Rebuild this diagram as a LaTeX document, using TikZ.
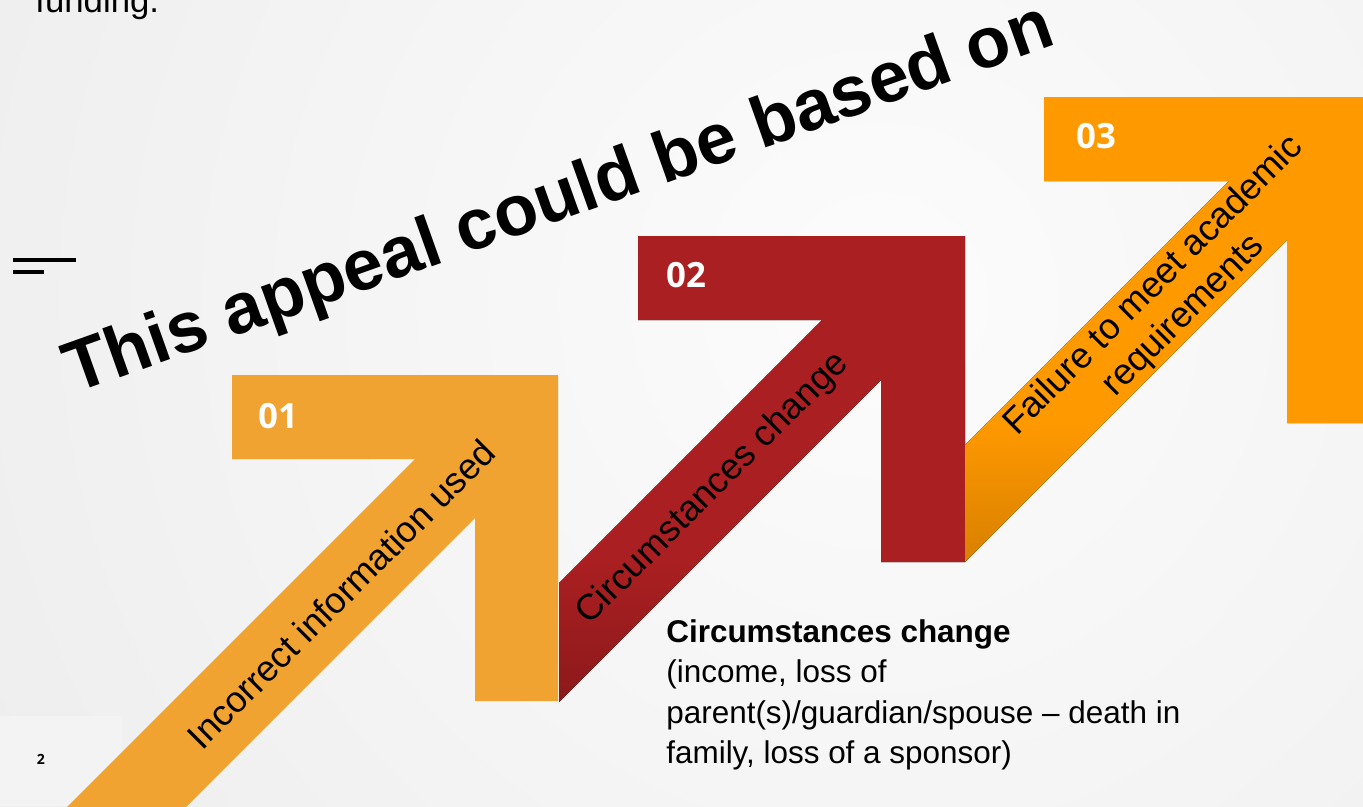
\documentclass[tikz,border=0pt]{standalone}
\usepackage{fontspec}
\setmainfont{Liberation Sans}
\newfontfamily\numfont{Open Sans}

\definecolor{bggray}{RGB}{231,231,231}
\definecolor{bglight}{RGB}{252,252,252}
\definecolor{pagebox}{RGB}{243,243,243}
\definecolor{stepone}{RGB}{240,163,48}
\definecolor{steptwo}{RGB}{170,31,33}
\definecolor{steptwodark}{RGB}{140,25,27}
\definecolor{stepthree}{RGB}{255,153,0}
\definecolor{stepthreedark}{RGB}{216,128,0}

% the middle 50bp of a shading spans the path
\pgfdeclareverticalshading{twofade}{100bp}{color(0bp)=(steptwodark); color(25bp)=(steptwodark); color(40bp)=(steptwo); color(100bp)=(steptwo)}
\pgfdeclareverticalshading{threefade}{100bp}{color(0bp)=(stepthreedark); color(25bp)=(stepthreedark); color(40bp)=(stepthree); color(100bp)=(stepthree)}

\begin{document}
\begin{tikzpicture}[x=0.02cm,y=-0.02cm,
  numlabel/.style={font=\numfont\bfseries\fontsize{19.8}{24}\selectfont, text=white, inner sep=0},
  bandtext/.style={font=\fontsize{20.6}{24}\selectfont, rotate=45, inner sep=0, align=center},
  titletext/.style={font=\bfseries\fontsize{40.8}{48}\selectfont, rotate=19.6, inner sep=0, anchor=base west},
  plaintext/.style={font=\fontsize{17.9}{23.1}\selectfont, inner sep=0, align=left}]

\useasboundingbox (0,0) rectangle (1363,806);
\clip (0,0) rectangle (1363,806);

% background
\fill[bggray] (0,0) rectangle (1363,806);
\fill[inner color=bglight, outer color=bggray] (880,300) circle [radius=30cm];
\fill[pagebox] (0,716) rectangle (122,806);

% the three steps
\fill[stepone] (50,824) -- (415,459) -- (232,459) -- (232,375) -- (558,375)
  -- (558,701) -- (475,701) -- (475,518) -- (169,824) -- cycle;
\fill[shading=twofade] (559,583) -- (822,320) -- (638,320) -- (638,236) -- (965,236)
  -- (965,562) -- (881,562) -- (881,380) -- (559,702) -- cycle;
\fill[shading=threefade] (965,445) -- (1229,181) -- (1044,181) -- (1044,97) -- (1375,97)
  -- (1375,423) -- (1287,423) -- (1287,240) -- (965,562) -- cycle;

\node (one) at (278,416) [numlabel] {01};
\node (two) at (686,275) [numlabel] {02};
\node (three) at (1096,136) [numlabel] {03};

\node (lblone) at (341,594) [bandtext] {Incorrect information used};
\node (lbltwo) at (713,489) [bandtext] {Circumstances change};
\node (lblthree) at (1169,301) [bandtext] {Failure to meet academic\\requirements};

\node (detail) at (666,619) [plaintext, anchor=north west] {\textbf{Circumstances change}\\(income, loss of\\parent(s)/guardian/spouse – death in\\family, loss of a sponsor)};

% slide leftovers
\node (prev) at (35,12) [plaintext, anchor=base west, font=\fontsize{19.8}{24}\selectfont] {funding.};
\draw[line width=0.08cm] (13,260) -- (76,260);
\draw[line width=0.08cm] (13,272) -- (44,272);
\node (pagenum) at (41,759) [font=\numfont\bfseries\fontsize{8}{10}\selectfont, inner sep=0] {2};

\node (title) at (74,394) [titletext] {This appeal could be based on};
\end{tikzpicture}
\end{document}
